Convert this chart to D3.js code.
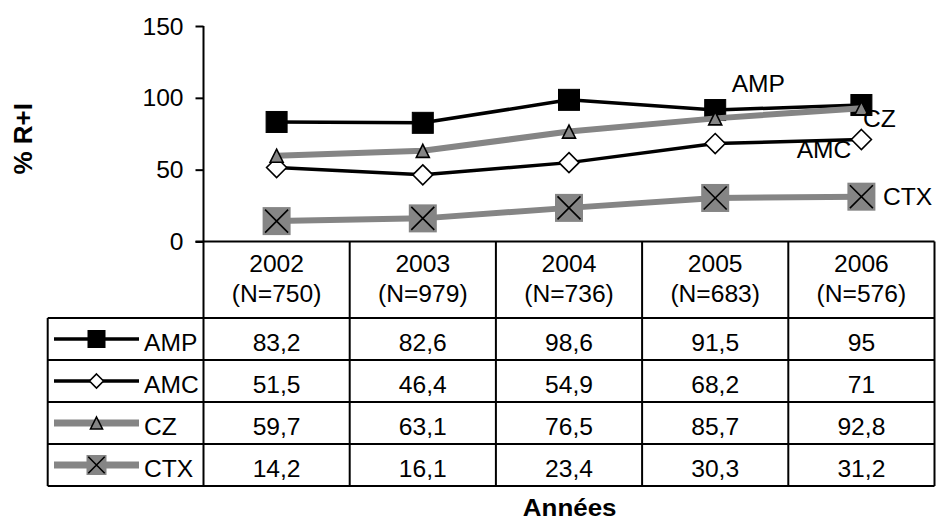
<!DOCTYPE html>
<html><head><meta charset="utf-8">
<script src="https://cdn.jsdelivr.net/npm/d3@7"></script>
<style>
body{margin:0;background:#fff}
text{font-family:"Liberation Sans",Arial,sans-serif;fill:#000}
</style>
</head><body>
<svg id="chart" width="936" height="520"></svg>
<script>
// Resistance rates (% R+I) per year, with sample sizes
const years = ["2002", "2003", "2004", "2005", "2006"];
const sampleSizes = ["(N=750)", "(N=979)", "(N=736)", "(N=683)", "(N=576)"];
const seriesNames = ["AMP", "AMC", "CZ", "CTX"];
const ampValues = [83.2, 82.6, 98.6, 91.5, 95];
const amcValues = [51.5, 46.4, 54.9, 68.2, 71];
const czValues = [59.7, 63.1, 76.5, 85.7, 92.8];
const ctxValues = [14.2, 16.1, 23.4, 30.3, 31.2];
const yTicks = [0, 50, 100, 150];
const yTitle = "% R+I";
const xTitle = "Années";

const GREY = "#858585";
const styles = {
  AMP: {lw: 3.5, color: "#000", shape: "square", size: 21, fill: "#000", lsize: 17, llw: 3.5, lab: [-129.7, -13.3]},
  AMC: {lw: 3.5, color: "#000", shape: "diamond", size: 20, fill: "#fff", lsize: 14, llw: 3.5, lab: [-64.7, 18.5]},
  CZ:  {lw: 6, color: GREY, shape: "triangle", size: 13, fill: GREY, lsize: 12, llw: 7, lab: [1.6, 18.5]},
  CTX: {lw: 6, color: GREY, shape: "xsquare", size: 28, fill: GREY, lsize: 20, llw: 7, lab: [21.6, 8.3]}
};
const valueLists = [ampValues, amcValues, czValues, ctxValues];
const series = seriesNames.map((name, i) => ({name, values: valueLists[i], st: styles[name]}));

const svg = d3.select("#chart");
const FS = 23;

// layout
const axisX = 203.5, rightX = 934.5, tableLeft = 47.7;
const plotTop = 26, plotBottom = 241.5;
const headerBottom = 318, rowH = 42;
const tableBottom = headerBottom + rowH * series.length;

const x = d3.scaleBand().domain(years).range([axisX, rightX]).paddingInner(0).paddingOuter(0);
const cx = d => x(d) + x.bandwidth() / 2;
const y = d3.scaleLinear().domain([0, 150]).range([plotBottom, plotTop]);

// y axis
const yAxis = svg.append("g").attr("transform", `translate(${axisX},0)`)
  .call(d3.axisLeft(y).tickValues(yTicks).tickSize(8).tickPadding(12));
yAxis.select(".domain").remove();
yAxis.selectAll(".tick line").attr("stroke", "#000").attr("stroke-width", 2);
yAxis.selectAll(".tick text").attr("class", "wide").attr("font-size", FS)
  .attr("font-family", null).attr("dy", "0.35em").attr("fill", "#000");

svg.append("text")
  .attr("transform", `translate(32,${(plotTop + plotBottom) / 2 + 5}) rotate(-90)`)
  .attr("text-anchor", "middle").attr("font-weight", "bold").attr("font-size", 26)
  .text(yTitle);

// table grid
const grid = svg.append("g").attr("stroke", "#000").attr("stroke-width", 2).attr("fill", "none");
grid.append("line").attr("x1", axisX).attr("x2", axisX).attr("y1", plotTop).attr("y2", tableBottom);
grid.append("line").attr("x1", axisX - 8).attr("x2", rightX).attr("y1", plotBottom).attr("y2", plotBottom);
years.forEach(yr => {
  const xr = x(yr) + x.bandwidth();
  grid.append("line").attr("x1", xr).attr("x2", xr).attr("y1", plotBottom).attr("y2", tableBottom);
});
grid.append("line").attr("x1", tableLeft).attr("x2", tableLeft).attr("y1", headerBottom).attr("y2", tableBottom);
d3.range(series.length + 1).forEach(i => {
  const yy = headerBottom + i * rowH;
  grid.append("line").attr("x1", tableLeft).attr("x2", rightX).attr("y1", yy).attr("y2", yy);
});

// header cells
years.forEach((yr, i) => {
  svg.append("text").attr("class", "wide").attr("x", cx(yr)).attr("y", 271.5)
    .attr("text-anchor", "middle").attr("font-size", FS).text(yr);
  svg.append("text").attr("class", "wide").attr("x", cx(yr)).attr("y", 301.5)
    .attr("text-anchor", "middle").attr("font-size", FS).text(sampleSizes[i]);
});

// marker drawing
function marker(g, shape, s, fill, px, py) {
  const h = s / 2;
  if (shape === "square") {
    g.append("rect").attr("x", px - h).attr("y", py - h).attr("width", s).attr("height", s)
      .attr("fill", fill).attr("stroke", "#000").attr("stroke-width", 1);
  } else if (shape === "diamond") {
    g.append("path").attr("d", `M${px},${py - h}L${px + h},${py}L${px},${py + h}L${px - h},${py}Z`)
      .attr("fill", fill).attr("stroke", "#000").attr("stroke-width", 1.6);
  } else if (shape === "triangle") {
    g.append("path").attr("d", `M${px},${py - h}L${px + h},${py + h}L${px - h},${py + h}Z`)
      .attr("fill", fill).attr("stroke", "#000").attr("stroke-width", 1.6);
  } else {
    g.append("rect").attr("x", px - h).attr("y", py - h).attr("width", s).attr("height", s)
      .attr("fill", fill);
    const k = h * 0.82;
    g.append("path").attr("d", `M${px - k},${py - k}L${px + k},${py + k}M${px + k},${py - k}L${px - k},${py + k}`)
      .attr("stroke", "#000").attr("stroke-width", 1.6);
  }
}

// series lines, markers and end labels
const line = d3.line().x((d, i) => cx(years[i])).y(d => y(d));
series.forEach(s => {
  const g = svg.append("g");
  g.append("path").attr("d", line(s.values)).attr("fill", "none")
    .attr("stroke", s.st.color).attr("stroke-width", s.st.lw).attr("stroke-linejoin", "round");
  s.values.forEach((v, i) => marker(g, s.st.shape, s.st.size, s.st.fill, cx(years[i]), y(v)));
});
series.forEach(s => {
  const last = s.values.length - 1;
  svg.append("text").attr("class", "wide")
    .attr("x", cx(years[last]) + s.st.lab[0]).attr("y", y(s.values[last]) + s.st.lab[1])
    .attr("font-size", FS).text(s.name);
});

// table rows: legend key + values
series.forEach((s, r) => {
  const top = headerBottom + r * rowH;
  const mid = top + rowH / 2;
  const g = svg.append("g");
  g.append("line").attr("x1", 54).attr("x2", 139).attr("y1", mid).attr("y2", mid)
    .attr("stroke", s.st.color).attr("stroke-width", s.st.llw);
  marker(g, s.st.shape, s.st.lsize, s.st.fill, 96.5, mid);
  svg.append("text").attr("class", "wide").attr("x", 144).attr("y", top + 32.5)
    .attr("font-size", FS).text(s.name);
  s.values.forEach((v, i) => {
    svg.append("text").attr("class", "wide").attr("x", cx(years[i])).attr("y", top + 32.5)
      .attr("text-anchor", "middle").attr("font-size", FS).text(String(v).replace(".", ","));
  });
});

svg.append("text").attr("class", "wideb").attr("x", 569.7).attr("y", 516)
  .attr("text-anchor", "middle").attr("font-weight", "bold").attr("font-size", 24).text(xTitle);

// widen glyphs slightly
function widen(sel, k) {
  sel.each(function () {
    const w = this.getComputedTextLength();
    d3.select(this).attr("textLength", w * k).attr("lengthAdjust", "spacingAndGlyphs");
  });
}
widen(svg.selectAll("text.wide"), 1.07);
widen(svg.selectAll("text.wideb"), 1.08);
</script>
</body></html>
